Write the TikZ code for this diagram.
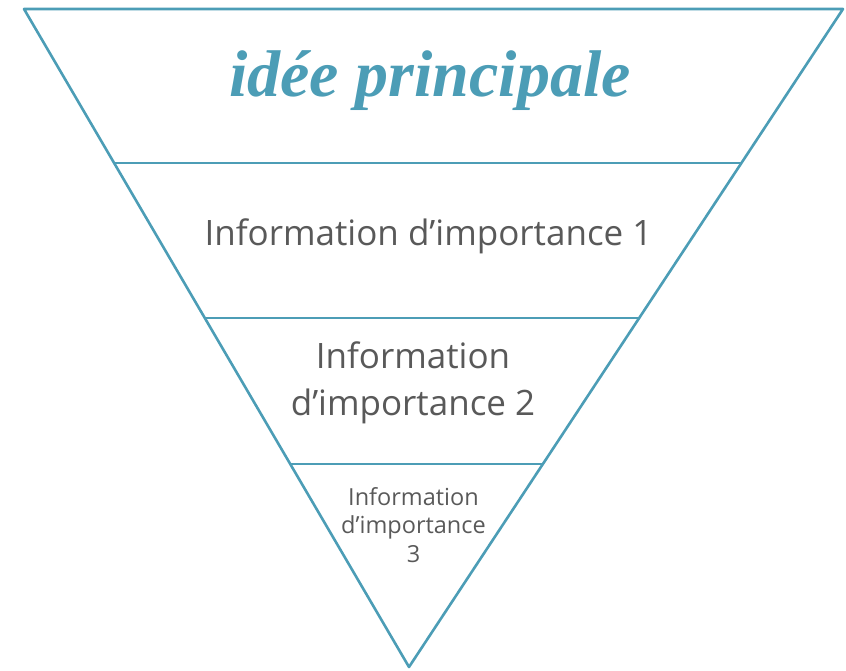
\documentclass[tikz,border=0pt]{standalone}
\usepackage{fontspec}
\setmainfont{Open Sans}
\newfontfamily\titlefont{Liberation Serif}
\usetikzlibrary{calc}
\definecolor{pyramidblue}{HTML}{4C9DB6}
\definecolor{textgray}{HTML}{595959}
\begin{document}
\begin{tikzpicture}
[x=1pt, y=-1pt,
% STYLES
% The edge style is used for the outline and the separating lines
edge/.style={draw=pyramidblue, line width=2.6pt, line join=round},
% The level style is used for the texts inside the levels
level/.style={text=textgray, align=center, inner sep=0pt, anchor=base}]

\useasboundingbox (0,0) rectangle (846,671);

% Draw triangle
\coordinate (topleft) at (24,9);
\coordinate (topright) at (843,9);
\coordinate (apex) at (409,667);
\draw [edge] (topleft) -- (topright) -- (apex) -- cycle;

% Draw separating lines
\draw [edge] ($(topleft)!0.234!(apex)$) -- ($(topright)!0.234!(apex)$);
\draw [edge] ($(topleft)!0.4696!(apex)$) -- ($(topright)!0.4696!(apex)$);
\draw [edge] ($(topleft)!0.6915!(apex)$) -- ($(topright)!0.6915!(apex)$);

% Draw texts (base = last line)
\node [level, text=pyramidblue, font=\titlefont\bfseries\itshape\fontsize{66}{70}\selectfont] (main) at (430,97) {idée principale};
\node [level, font=\fontsize{35}{42}\selectfont] (first) at (428.5,246) {Information d’importance 1};
\node [level, font=\fontsize{35}{47}\selectfont] (second) at (413,415) {Information\\d’importance 2};
\node [level, font=\fontsize{23.5}{28.5}\selectfont] (third) at (413.5,562) {Information\\d’importance\\3};

\end{tikzpicture}
\end{document}
